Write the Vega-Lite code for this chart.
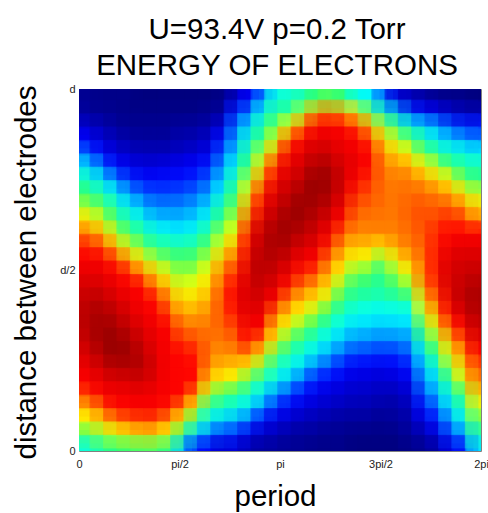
{"$schema":"https://vega.github.io/schema/vega-lite/v6.json","width":402,"height":362,"autosize":{"type":"none"},"padding":{"left":79,"top":89,"right":7,"bottom":62},"background":"white",
"title":{"text":["U=93.4V p=0.2 Torr","ENERGY OF ELECTRONS"],"font":"Liberation Sans","fontSize":29.5,"fontWeight":"normal","color":"#000000","anchor":"middle","lineHeight":36,"offset":2,"dx":-3},
"view":{"stroke":"#808080","strokeWidth":1},
"data":{"values":[
{"c":0,"r":0,"v":2},{"c":0,"r":1,"v":3},{"c":0,"r":2,"v":7},{"c":0,"r":3,"v":12},{"c":0,"r":4,"v":21},{"c":0,"r":5,"v":33},{"c":0,"r":6,"v":42},{"c":0,"r":7,"v":49},{"c":0,"r":8,"v":56},{"c":0,"r":9,"v":65},{"c":0,"r":10,"v":76},{"c":0,"r":11,"v":84},{"c":0,"r":12,"v":88},{"c":0,"r":13,"v":90},{"c":0,"r":14,"v":92},{"c":0,"r":15,"v":94},{"c":0,"r":16,"v":95},{"c":0,"r":17,"v":95},{"c":0,"r":18,"v":94},{"c":0,"r":19,"v":92},{"c":0,"r":20,"v":90},{"c":0,"r":21,"v":88},{"c":0,"r":22,"v":83},{"c":0,"r":23,"v":73},{"c":0,"r":24,"v":63},{"c":0,"r":25,"v":53},{"c":0,"r":26,"v":41},
{"c":1,"r":0,"v":1},{"c":1,"r":1,"v":2},{"c":1,"r":2,"v":5},{"c":1,"r":3,"v":8},{"c":1,"r":4,"v":13},{"c":1,"r":5,"v":24},{"c":1,"r":6,"v":35},{"c":1,"r":7,"v":44},{"c":1,"r":8,"v":52},{"c":1,"r":9,"v":60},{"c":1,"r":10,"v":71},{"c":1,"r":11,"v":81},{"c":1,"r":12,"v":88},{"c":1,"r":13,"v":90},{"c":1,"r":14,"v":92},{"c":1,"r":15,"v":95},{"c":1,"r":16,"v":97},{"c":1,"r":17,"v":98},{"c":1,"r":18,"v":98},{"c":1,"r":19,"v":96},{"c":1,"r":20,"v":93},{"c":1,"r":21,"v":90},{"c":1,"r":22,"v":88},{"c":1,"r":23,"v":79},{"c":1,"r":24,"v":69},{"c":1,"r":25,"v":57},{"c":1,"r":26,"v":46},
{"c":2,"r":0,"v":1},{"c":2,"r":1,"v":2},{"c":2,"r":2,"v":3},{"c":2,"r":3,"v":6},{"c":2,"r":4,"v":9},{"c":2,"r":5,"v":14},{"c":2,"r":6,"v":26},{"c":2,"r":7,"v":37},{"c":2,"r":8,"v":45},{"c":2,"r":9,"v":51},{"c":2,"r":10,"v":60},{"c":2,"r":11,"v":71},{"c":2,"r":12,"v":83},{"c":2,"r":13,"v":88},{"c":2,"r":14,"v":90},{"c":2,"r":15,"v":92},{"c":2,"r":16,"v":95},{"c":2,"r":17,"v":97},{"c":2,"r":18,"v":99},{"c":2,"r":19,"v":99},{"c":2,"r":20,"v":96},{"c":2,"r":21,"v":92},{"c":2,"r":22,"v":89},{"c":2,"r":23,"v":87},{"c":2,"r":24,"v":76},{"c":2,"r":25,"v":62},{"c":2,"r":26,"v":49},
{"c":3,"r":0,"v":1},{"c":3,"r":1,"v":1},{"c":3,"r":2,"v":2},{"c":3,"r":3,"v":4},{"c":3,"r":4,"v":7},{"c":3,"r":5,"v":11},{"c":3,"r":6,"v":18},{"c":3,"r":7,"v":28},{"c":3,"r":8,"v":36},{"c":3,"r":9,"v":44},{"c":3,"r":10,"v":51},{"c":3,"r":11,"v":60},{"c":3,"r":12,"v":74},{"c":3,"r":13,"v":85},{"c":3,"r":14,"v":88},{"c":3,"r":15,"v":90},{"c":3,"r":16,"v":92},{"c":3,"r":17,"v":94},{"c":3,"r":18,"v":97},{"c":3,"r":19,"v":98},{"c":3,"r":20,"v":96},{"c":3,"r":21,"v":92},{"c":3,"r":22,"v":89},{"c":3,"r":23,"v":87},{"c":3,"r":24,"v":80},{"c":3,"r":25,"v":65},{"c":3,"r":26,"v":51},
{"c":4,"r":0,"v":0},{"c":4,"r":1,"v":1},{"c":4,"r":2,"v":2},{"c":4,"r":3,"v":3},{"c":4,"r":4,"v":6},{"c":4,"r":5,"v":9},{"c":4,"r":6,"v":14},{"c":4,"r":7,"v":22},{"c":4,"r":8,"v":31},{"c":4,"r":9,"v":39},{"c":4,"r":10,"v":46},{"c":4,"r":11,"v":54},{"c":4,"r":12,"v":64},{"c":4,"r":13,"v":76},{"c":4,"r":14,"v":87},{"c":4,"r":15,"v":88},{"c":4,"r":16,"v":89},{"c":4,"r":17,"v":91},{"c":4,"r":18,"v":93},{"c":4,"r":19,"v":95},{"c":4,"r":20,"v":96},{"c":4,"r":21,"v":93},{"c":4,"r":22,"v":90},{"c":4,"r":23,"v":88},{"c":4,"r":24,"v":82},{"c":4,"r":25,"v":68},{"c":4,"r":26,"v":52},
{"c":5,"r":0,"v":0},{"c":5,"r":1,"v":1},{"c":5,"r":2,"v":2},{"c":5,"r":3,"v":3},{"c":5,"r":4,"v":6},{"c":5,"r":5,"v":9},{"c":5,"r":6,"v":13},{"c":5,"r":7,"v":19},{"c":5,"r":8,"v":25},{"c":5,"r":9,"v":32},{"c":5,"r":10,"v":40},{"c":5,"r":11,"v":47},{"c":5,"r":12,"v":57},{"c":5,"r":13,"v":68},{"c":5,"r":14,"v":77},{"c":5,"r":15,"v":86},{"c":5,"r":16,"v":88},{"c":5,"r":17,"v":89},{"c":5,"r":18,"v":90},{"c":5,"r":19,"v":91},{"c":5,"r":20,"v":92},{"c":5,"r":21,"v":91},{"c":5,"r":22,"v":89},{"c":5,"r":23,"v":88},{"c":5,"r":24,"v":82},{"c":5,"r":25,"v":68},{"c":5,"r":26,"v":52},
{"c":6,"r":0,"v":0},{"c":6,"r":1,"v":1},{"c":6,"r":2,"v":2},{"c":6,"r":3,"v":3},{"c":6,"r":4,"v":6},{"c":6,"r":5,"v":10},{"c":6,"r":6,"v":14},{"c":6,"r":7,"v":19},{"c":6,"r":8,"v":25},{"c":6,"r":9,"v":31},{"c":6,"r":10,"v":38},{"c":6,"r":11,"v":46},{"c":6,"r":12,"v":53},{"c":6,"r":13,"v":61},{"c":6,"r":14,"v":69},{"c":6,"r":15,"v":77},{"c":6,"r":16,"v":82},{"c":6,"r":17,"v":87},{"c":6,"r":18,"v":88},{"c":6,"r":19,"v":88},{"c":6,"r":20,"v":88},{"c":6,"r":21,"v":88},{"c":6,"r":22,"v":88},{"c":6,"r":23,"v":86},{"c":6,"r":24,"v":76},{"c":6,"r":25,"v":63},{"c":6,"r":26,"v":48},
{"c":7,"r":0,"v":0},{"c":7,"r":1,"v":1},{"c":7,"r":2,"v":3},{"c":7,"r":3,"v":5},{"c":7,"r":4,"v":7},{"c":7,"r":5,"v":11},{"c":7,"r":6,"v":14},{"c":7,"r":7,"v":20},{"c":7,"r":8,"v":25},{"c":7,"r":9,"v":31},{"c":7,"r":10,"v":36},{"c":7,"r":11,"v":44},{"c":7,"r":12,"v":51},{"c":7,"r":13,"v":55},{"c":7,"r":14,"v":60},{"c":7,"r":15,"v":66},{"c":7,"r":16,"v":72},{"c":7,"r":17,"v":78},{"c":7,"r":18,"v":82},{"c":7,"r":19,"v":87},{"c":7,"r":20,"v":87},{"c":7,"r":21,"v":87},{"c":7,"r":22,"v":87},{"c":7,"r":23,"v":78},{"c":7,"r":24,"v":65},{"c":7,"r":25,"v":51},{"c":7,"r":26,"v":33},
{"c":8,"r":0,"v":0},{"c":8,"r":1,"v":1},{"c":8,"r":2,"v":3},{"c":8,"r":3,"v":5},{"c":8,"r":4,"v":8},{"c":8,"r":5,"v":12},{"c":8,"r":6,"v":16},{"c":8,"r":7,"v":22},{"c":8,"r":8,"v":28},{"c":8,"r":9,"v":33},{"c":8,"r":10,"v":39},{"c":8,"r":11,"v":46},{"c":8,"r":12,"v":52},{"c":8,"r":13,"v":57},{"c":8,"r":14,"v":62},{"c":8,"r":15,"v":67},{"c":8,"r":16,"v":72},{"c":8,"r":17,"v":77},{"c":8,"r":18,"v":81},{"c":8,"r":19,"v":85},{"c":8,"r":20,"v":87},{"c":8,"r":21,"v":87},{"c":8,"r":22,"v":78},{"c":8,"r":23,"v":65},{"c":8,"r":24,"v":51},{"c":8,"r":25,"v":35},{"c":8,"r":26,"v":16},
{"c":9,"r":0,"v":0},{"c":9,"r":1,"v":2},{"c":9,"r":2,"v":4},{"c":9,"r":3,"v":7},{"c":9,"r":4,"v":10},{"c":9,"r":5,"v":15},{"c":9,"r":6,"v":21},{"c":9,"r":7,"v":27},{"c":9,"r":8,"v":33},{"c":9,"r":9,"v":39},{"c":9,"r":10,"v":46},{"c":9,"r":11,"v":52},{"c":9,"r":12,"v":58},{"c":9,"r":13,"v":63},{"c":9,"r":14,"v":67},{"c":9,"r":15,"v":71},{"c":9,"r":16,"v":75},{"c":9,"r":17,"v":77},{"c":9,"r":18,"v":78},{"c":9,"r":19,"v":78},{"c":9,"r":20,"v":76},{"c":9,"r":21,"v":69},{"c":9,"r":22,"v":60},{"c":9,"r":23,"v":47},{"c":9,"r":24,"v":38},{"c":9,"r":25,"v":27},{"c":9,"r":26,"v":12},
{"c":10,"r":0,"v":1},{"c":10,"r":1,"v":3},{"c":10,"r":2,"v":8},{"c":10,"r":3,"v":14},{"c":10,"r":4,"v":20},{"c":10,"r":5,"v":26},{"c":10,"r":6,"v":32},{"c":10,"r":7,"v":37},{"c":10,"r":8,"v":44},{"c":10,"r":9,"v":49},{"c":10,"r":10,"v":56},{"c":10,"r":11,"v":61},{"c":10,"r":12,"v":69},{"c":10,"r":13,"v":76},{"c":10,"r":14,"v":79},{"c":10,"r":15,"v":81},{"c":10,"r":16,"v":80},{"c":10,"r":17,"v":79},{"c":10,"r":18,"v":77},{"c":10,"r":19,"v":74},{"c":10,"r":20,"v":70},{"c":10,"r":21,"v":64},{"c":10,"r":22,"v":51},{"c":10,"r":23,"v":43},{"c":10,"r":24,"v":34},{"c":10,"r":25,"v":18},{"c":10,"r":26,"v":8},
{"c":11,"r":0,"v":6},{"c":11,"r":1,"v":15},{"c":11,"r":2,"v":22},{"c":11,"r":3,"v":27},{"c":11,"r":4,"v":32},{"c":11,"r":5,"v":38},{"c":11,"r":6,"v":43},{"c":11,"r":7,"v":49},{"c":11,"r":8,"v":53},{"c":11,"r":9,"v":58},{"c":11,"r":10,"v":62},{"c":11,"r":11,"v":71},{"c":11,"r":12,"v":78},{"c":11,"r":13,"v":83},{"c":11,"r":14,"v":87},{"c":11,"r":15,"v":88},{"c":11,"r":16,"v":86},{"c":11,"r":17,"v":82},{"c":11,"r":18,"v":79},{"c":11,"r":19,"v":76},{"c":11,"r":20,"v":69},{"c":11,"r":21,"v":62},{"c":11,"r":22,"v":49},{"c":11,"r":23,"v":40},{"c":11,"r":24,"v":31},{"c":11,"r":25,"v":18},{"c":11,"r":26,"v":9},
{"c":12,"r":0,"v":12},{"c":12,"r":1,"v":23},{"c":12,"r":2,"v":33},{"c":12,"r":3,"v":40},{"c":12,"r":4,"v":45},{"c":12,"r":5,"v":50},{"c":12,"r":6,"v":57},{"c":12,"r":7,"v":64},{"c":12,"r":8,"v":72},{"c":12,"r":9,"v":78},{"c":12,"r":10,"v":86},{"c":12,"r":11,"v":88},{"c":12,"r":12,"v":90},{"c":12,"r":13,"v":91},{"c":12,"r":14,"v":92},{"c":12,"r":15,"v":92},{"c":12,"r":16,"v":91},{"c":12,"r":17,"v":89},{"c":12,"r":18,"v":87},{"c":12,"r":19,"v":78},{"c":12,"r":20,"v":65},{"c":12,"r":21,"v":53},{"c":12,"r":22,"v":44},{"c":12,"r":23,"v":36},{"c":12,"r":24,"v":25},{"c":12,"r":25,"v":11},{"c":12,"r":26,"v":5},
{"c":13,"r":0,"v":24},{"c":13,"r":1,"v":38},{"c":13,"r":2,"v":44},{"c":13,"r":3,"v":49},{"c":13,"r":4,"v":57},{"c":13,"r":5,"v":65},{"c":13,"r":6,"v":74},{"c":13,"r":7,"v":83},{"c":13,"r":8,"v":88},{"c":13,"r":9,"v":91},{"c":13,"r":10,"v":94},{"c":13,"r":11,"v":95},{"c":13,"r":12,"v":96},{"c":13,"r":13,"v":96},{"c":13,"r":14,"v":94},{"c":13,"r":15,"v":92},{"c":13,"r":16,"v":90},{"c":13,"r":17,"v":88},{"c":13,"r":18,"v":79},{"c":13,"r":19,"v":67},{"c":13,"r":20,"v":56},{"c":13,"r":21,"v":45},{"c":13,"r":22,"v":37},{"c":13,"r":23,"v":28},{"c":13,"r":24,"v":14},{"c":13,"r":25,"v":7},{"c":13,"r":26,"v":3},
{"c":14,"r":0,"v":39},{"c":14,"r":1,"v":46},{"c":14,"r":2,"v":52},{"c":14,"r":3,"v":60},{"c":14,"r":4,"v":70},{"c":14,"r":5,"v":83},{"c":14,"r":6,"v":88},{"c":14,"r":7,"v":91},{"c":14,"r":8,"v":93},{"c":14,"r":9,"v":95},{"c":14,"r":10,"v":97},{"c":14,"r":11,"v":97},{"c":14,"r":12,"v":95},{"c":14,"r":13,"v":93},{"c":14,"r":14,"v":91},{"c":14,"r":15,"v":88},{"c":14,"r":16,"v":79},{"c":14,"r":17,"v":70},{"c":14,"r":18,"v":64},{"c":14,"r":19,"v":54},{"c":14,"r":20,"v":45},{"c":14,"r":21,"v":39},{"c":14,"r":22,"v":28},{"c":14,"r":23,"v":18},{"c":14,"r":24,"v":10},{"c":14,"r":25,"v":6},{"c":14,"r":26,"v":3},
{"c":15,"r":0,"v":42},{"c":15,"r":1,"v":47},{"c":15,"r":2,"v":62},{"c":15,"r":3,"v":78},{"c":15,"r":4,"v":88},{"c":15,"r":5,"v":90},{"c":15,"r":6,"v":92},{"c":15,"r":7,"v":94},{"c":15,"r":8,"v":96},{"c":15,"r":9,"v":98},{"c":15,"r":10,"v":98},{"c":15,"r":11,"v":96},{"c":15,"r":12,"v":93},{"c":15,"r":13,"v":90},{"c":15,"r":14,"v":86},{"c":15,"r":15,"v":77},{"c":15,"r":16,"v":69},{"c":15,"r":17,"v":62},{"c":15,"r":18,"v":53},{"c":15,"r":19,"v":46},{"c":15,"r":20,"v":39},{"c":15,"r":21,"v":33},{"c":15,"r":22,"v":21},{"c":15,"r":23,"v":12},{"c":15,"r":24,"v":8},{"c":15,"r":25,"v":4},{"c":15,"r":26,"v":2},
{"c":16,"r":0,"v":44},{"c":16,"r":1,"v":57},{"c":16,"r":2,"v":75},{"c":16,"r":3,"v":87},{"c":16,"r":4,"v":90},{"c":16,"r":5,"v":92},{"c":16,"r":6,"v":94},{"c":16,"r":7,"v":97},{"c":16,"r":8,"v":99},{"c":16,"r":9,"v":98},{"c":16,"r":10,"v":95},{"c":16,"r":11,"v":92},{"c":16,"r":12,"v":89},{"c":16,"r":13,"v":85},{"c":16,"r":14,"v":78},{"c":16,"r":15,"v":70},{"c":16,"r":16,"v":63},{"c":16,"r":17,"v":55},{"c":16,"r":18,"v":47},{"c":16,"r":19,"v":41},{"c":16,"r":20,"v":35},{"c":16,"r":21,"v":24},{"c":16,"r":22,"v":14},{"c":16,"r":23,"v":10},{"c":16,"r":24,"v":6},{"c":16,"r":25,"v":3},{"c":16,"r":26,"v":2},
{"c":17,"r":0,"v":50},{"c":17,"r":1,"v":71},{"c":17,"r":2,"v":87},{"c":17,"r":3,"v":90},{"c":17,"r":4,"v":93},{"c":17,"r":5,"v":96},{"c":17,"r":6,"v":99},{"c":17,"r":7,"v":99},{"c":17,"r":8,"v":97},{"c":17,"r":9,"v":95},{"c":17,"r":10,"v":93},{"c":17,"r":11,"v":91},{"c":17,"r":12,"v":88},{"c":17,"r":13,"v":82},{"c":17,"r":14,"v":74},{"c":17,"r":15,"v":66},{"c":17,"r":16,"v":58},{"c":17,"r":17,"v":50},{"c":17,"r":18,"v":42},{"c":17,"r":19,"v":36},{"c":17,"r":20,"v":26},{"c":17,"r":21,"v":16},{"c":17,"r":22,"v":11},{"c":17,"r":23,"v":8},{"c":17,"r":24,"v":5},{"c":17,"r":25,"v":3},{"c":17,"r":26,"v":1},
{"c":18,"r":0,"v":52},{"c":18,"r":1,"v":76},{"c":18,"r":2,"v":88},{"c":18,"r":3,"v":90},{"c":18,"r":4,"v":93},{"c":18,"r":5,"v":96},{"c":18,"r":6,"v":98},{"c":18,"r":7,"v":97},{"c":18,"r":8,"v":95},{"c":18,"r":9,"v":92},{"c":18,"r":10,"v":89},{"c":18,"r":11,"v":85},{"c":18,"r":12,"v":78},{"c":18,"r":13,"v":72},{"c":18,"r":14,"v":66},{"c":18,"r":15,"v":60},{"c":18,"r":16,"v":50},{"c":18,"r":17,"v":43},{"c":18,"r":18,"v":37},{"c":18,"r":19,"v":30},{"c":18,"r":20,"v":21},{"c":18,"r":21,"v":13},{"c":18,"r":22,"v":9},{"c":18,"r":23,"v":7},{"c":18,"r":24,"v":4},{"c":18,"r":25,"v":2},{"c":18,"r":26,"v":1},
{"c":19,"r":0,"v":49},{"c":19,"r":1,"v":72},{"c":19,"r":2,"v":87},{"c":19,"r":3,"v":89},{"c":19,"r":4,"v":90},{"c":19,"r":5,"v":92},{"c":19,"r":6,"v":93},{"c":19,"r":7,"v":92},{"c":19,"r":8,"v":90},{"c":19,"r":9,"v":87},{"c":19,"r":10,"v":81},{"c":19,"r":11,"v":75},{"c":19,"r":12,"v":69},{"c":19,"r":13,"v":63},{"c":19,"r":14,"v":56},{"c":19,"r":15,"v":49},{"c":19,"r":16,"v":43},{"c":19,"r":17,"v":38},{"c":19,"r":18,"v":32},{"c":19,"r":19,"v":24},{"c":19,"r":20,"v":15},{"c":19,"r":21,"v":11},{"c":19,"r":22,"v":8},{"c":19,"r":23,"v":6},{"c":19,"r":24,"v":3},{"c":19,"r":25,"v":2},{"c":19,"r":26,"v":1},
{"c":20,"r":0,"v":40},{"c":20,"r":1,"v":64},{"c":20,"r":2,"v":81},{"c":20,"r":3,"v":88},{"c":20,"r":4,"v":89},{"c":20,"r":5,"v":90},{"c":20,"r":6,"v":88},{"c":20,"r":7,"v":85},{"c":20,"r":8,"v":81},{"c":20,"r":9,"v":78},{"c":20,"r":10,"v":75},{"c":20,"r":11,"v":69},{"c":20,"r":12,"v":62},{"c":20,"r":13,"v":54},{"c":20,"r":14,"v":48},{"c":20,"r":15,"v":45},{"c":20,"r":16,"v":39},{"c":20,"r":17,"v":34},{"c":20,"r":18,"v":27},{"c":20,"r":19,"v":19},{"c":20,"r":20,"v":12},{"c":20,"r":21,"v":9},{"c":20,"r":22,"v":7},{"c":20,"r":23,"v":5},{"c":20,"r":24,"v":3},{"c":20,"r":25,"v":1},{"c":20,"r":26,"v":0},
{"c":21,"r":0,"v":37},{"c":21,"r":1,"v":53},{"c":21,"r":2,"v":72},{"c":21,"r":3,"v":82},{"c":21,"r":4,"v":87},{"c":21,"r":5,"v":87},{"c":21,"r":6,"v":84},{"c":21,"r":7,"v":81},{"c":21,"r":8,"v":79},{"c":21,"r":9,"v":77},{"c":21,"r":10,"v":76},{"c":21,"r":11,"v":70},{"c":21,"r":12,"v":62},{"c":21,"r":13,"v":53},{"c":21,"r":14,"v":48},{"c":21,"r":15,"v":44},{"c":21,"r":16,"v":38},{"c":21,"r":17,"v":34},{"c":21,"r":18,"v":27},{"c":21,"r":19,"v":19},{"c":21,"r":20,"v":12},{"c":21,"r":21,"v":9},{"c":21,"r":22,"v":7},{"c":21,"r":23,"v":5},{"c":21,"r":24,"v":3},{"c":21,"r":25,"v":1},{"c":21,"r":26,"v":0},
{"c":22,"r":0,"v":23},{"c":22,"r":1,"v":41},{"c":22,"r":2,"v":57},{"c":22,"r":3,"v":67},{"c":22,"r":4,"v":75},{"c":22,"r":5,"v":77},{"c":22,"r":6,"v":78},{"c":22,"r":7,"v":78},{"c":22,"r":8,"v":78},{"c":22,"r":9,"v":77},{"c":22,"r":10,"v":76},{"c":22,"r":11,"v":66},{"c":22,"r":12,"v":55},{"c":22,"r":13,"v":47},{"c":22,"r":14,"v":46},{"c":22,"r":15,"v":43},{"c":22,"r":16,"v":37},{"c":22,"r":17,"v":32},{"c":22,"r":18,"v":25},{"c":22,"r":19,"v":17},{"c":22,"r":20,"v":11},{"c":22,"r":21,"v":8},{"c":22,"r":22,"v":6},{"c":22,"r":23,"v":4},{"c":22,"r":24,"v":2},{"c":22,"r":25,"v":1},{"c":22,"r":26,"v":0},
{"c":23,"r":0,"v":9},{"c":23,"r":1,"v":31},{"c":23,"r":2,"v":48},{"c":23,"r":3,"v":59},{"c":23,"r":4,"v":66},{"c":23,"r":5,"v":74},{"c":23,"r":6,"v":76},{"c":23,"r":7,"v":77},{"c":23,"r":8,"v":77},{"c":23,"r":9,"v":77},{"c":23,"r":10,"v":76},{"c":23,"r":11,"v":73},{"c":23,"r":12,"v":64},{"c":23,"r":13,"v":57},{"c":23,"r":14,"v":51},{"c":23,"r":15,"v":45},{"c":23,"r":16,"v":38},{"c":23,"r":17,"v":33},{"c":23,"r":18,"v":26},{"c":23,"r":19,"v":18},{"c":23,"r":20,"v":12},{"c":23,"r":21,"v":9},{"c":23,"r":22,"v":6},{"c":23,"r":23,"v":4},{"c":23,"r":24,"v":3},{"c":23,"r":25,"v":1},{"c":23,"r":26,"v":0},
{"c":24,"r":0,"v":6},{"c":24,"r":1,"v":19},{"c":24,"r":2,"v":39},{"c":24,"r":3,"v":51},{"c":24,"r":4,"v":63},{"c":24,"r":5,"v":72},{"c":24,"r":6,"v":77},{"c":24,"r":7,"v":78},{"c":24,"r":8,"v":79},{"c":24,"r":9,"v":79},{"c":24,"r":10,"v":78},{"c":24,"r":11,"v":77},{"c":24,"r":12,"v":72},{"c":24,"r":13,"v":63},{"c":24,"r":14,"v":56},{"c":24,"r":15,"v":47},{"c":24,"r":16,"v":38},{"c":24,"r":17,"v":34},{"c":24,"r":18,"v":27},{"c":24,"r":19,"v":22},{"c":24,"r":20,"v":15},{"c":24,"r":21,"v":11},{"c":24,"r":22,"v":8},{"c":24,"r":23,"v":6},{"c":24,"r":24,"v":4},{"c":24,"r":25,"v":3},{"c":24,"r":26,"v":1},
{"c":25,"r":0,"v":4},{"c":25,"r":1,"v":13},{"c":25,"r":2,"v":33},{"c":25,"r":3,"v":44},{"c":25,"r":4,"v":52},{"c":25,"r":5,"v":63},{"c":25,"r":6,"v":73},{"c":25,"r":7,"v":78},{"c":25,"r":8,"v":80},{"c":25,"r":9,"v":81},{"c":25,"r":10,"v":80},{"c":25,"r":11,"v":79},{"c":25,"r":12,"v":78},{"c":25,"r":13,"v":77},{"c":25,"r":14,"v":75},{"c":25,"r":15,"v":65},{"c":25,"r":16,"v":60},{"c":25,"r":17,"v":52},{"c":25,"r":18,"v":45},{"c":25,"r":19,"v":37},{"c":25,"r":20,"v":31},{"c":25,"r":21,"v":26},{"c":25,"r":22,"v":20},{"c":25,"r":23,"v":14},{"c":25,"r":24,"v":10},{"c":25,"r":25,"v":5},{"c":25,"r":26,"v":2},
{"c":26,"r":0,"v":2},{"c":26,"r":1,"v":11},{"c":26,"r":2,"v":28},{"c":26,"r":3,"v":37},{"c":26,"r":4,"v":47},{"c":26,"r":5,"v":58},{"c":26,"r":6,"v":67},{"c":26,"r":7,"v":76},{"c":26,"r":8,"v":79},{"c":26,"r":9,"v":81},{"c":26,"r":10,"v":84},{"c":26,"r":11,"v":85},{"c":26,"r":12,"v":86},{"c":26,"r":13,"v":86},{"c":26,"r":14,"v":84},{"c":26,"r":15,"v":80},{"c":26,"r":16,"v":73},{"c":26,"r":17,"v":65},{"c":26,"r":18,"v":56},{"c":26,"r":19,"v":50},{"c":26,"r":20,"v":41},{"c":26,"r":21,"v":35},{"c":26,"r":22,"v":30},{"c":26,"r":23,"v":22},{"c":26,"r":24,"v":15},{"c":26,"r":25,"v":9},{"c":26,"r":26,"v":4},
{"c":27,"r":0,"v":1},{"c":27,"r":1,"v":8},{"c":27,"r":2,"v":20},{"c":27,"r":3,"v":32},{"c":27,"r":4,"v":40},{"c":27,"r":5,"v":50},{"c":27,"r":6,"v":63},{"c":27,"r":7,"v":72},{"c":27,"r":8,"v":79},{"c":27,"r":9,"v":84},{"c":27,"r":10,"v":87},{"c":27,"r":11,"v":89},{"c":27,"r":12,"v":91},{"c":27,"r":13,"v":92},{"c":27,"r":14,"v":92},{"c":27,"r":15,"v":90},{"c":27,"r":16,"v":88},{"c":27,"r":17,"v":81},{"c":27,"r":18,"v":71},{"c":27,"r":19,"v":64},{"c":27,"r":20,"v":56},{"c":27,"r":21,"v":48},{"c":27,"r":22,"v":40},{"c":27,"r":23,"v":35},{"c":27,"r":24,"v":27},{"c":27,"r":25,"v":19},{"c":27,"r":26,"v":10},
{"c":28,"r":0,"v":1},{"c":28,"r":1,"v":6},{"c":28,"r":2,"v":16},{"c":28,"r":3,"v":28},{"c":28,"r":4,"v":39},{"c":28,"r":5,"v":46},{"c":28,"r":6,"v":53},{"c":28,"r":7,"v":65},{"c":28,"r":8,"v":75},{"c":28,"r":9,"v":82},{"c":28,"r":10,"v":87},{"c":28,"r":11,"v":90},{"c":28,"r":12,"v":92},{"c":28,"r":13,"v":93},{"c":28,"r":14,"v":94},{"c":28,"r":15,"v":95},{"c":28,"r":16,"v":92},{"c":28,"r":17,"v":88},{"c":28,"r":18,"v":82},{"c":28,"r":19,"v":75},{"c":28,"r":20,"v":68},{"c":28,"r":21,"v":62},{"c":28,"r":22,"v":51},{"c":28,"r":23,"v":44},{"c":28,"r":24,"v":38},{"c":28,"r":25,"v":28},{"c":28,"r":26,"v":15},
{"c":29,"r":0,"v":0},{"c":29,"r":1,"v":5},{"c":29,"r":2,"v":15},{"c":29,"r":3,"v":24},{"c":29,"r":4,"v":36},{"c":29,"r":5,"v":43},{"c":29,"r":6,"v":48},{"c":29,"r":7,"v":58},{"c":29,"r":8,"v":66},{"c":29,"r":9,"v":75},{"c":29,"r":10,"v":87},{"c":29,"r":11,"v":90},{"c":29,"r":12,"v":92},{"c":29,"r":13,"v":94},{"c":29,"r":14,"v":96},{"c":29,"r":15,"v":97},{"c":29,"r":16,"v":96},{"c":29,"r":17,"v":94},{"c":29,"r":18,"v":91},{"c":29,"r":19,"v":87},{"c":29,"r":20,"v":81},{"c":29,"r":21,"v":77},{"c":29,"r":22,"v":69},{"c":29,"r":23,"v":61},{"c":29,"r":24,"v":53},{"c":29,"r":25,"v":45},{"c":29,"r":26,"v":35}
]},
"encoding":{
"x":{"field":"c","type":"quantitative","scale":{"domain":[-0.5,29.5],"nice":false,"zero":false},"axis":{"values":[-0.5,7,14.5,22,29.5],"labelExpr":"{'-0.5':'0','7':'pi/2','14.5':'pi','22':'3pi/2','29.5':'2pi'}[datum.value+'']","labelFont":"Liberation Sans","labelFontSize":11,"labelColor":"#222222","labelPadding":7,"labelAngle":0,"labelFlush":false,"ticks":false,"domain":false,"grid":false,"title":"period","titleFont":"Liberation Sans","titleFontSize":29.5,"titleFontWeight":"normal","titleColor":"#000000","titlePadding":13,"titleX":196}},
"y":{"field":"r","type":"quantitative","scale":{"domain":[26.5,-0.5],"nice":false,"zero":false},"axis":{"values":[26.5,13,-0.5],"labelExpr":"{'26.5':'0','13':'d/2','-0.5':'d'}[datum.value+'']","labelFont":"Liberation Sans","labelFontSize":11,"labelColor":"#222222","labelPadding":4,"ticks":false,"domain":false,"grid":false,"labelFlush":false,"title":"distance between electrodes","titleFont":"Liberation Sans","titleFontSize":29.5,"titleFontWeight":"normal","titleColor":"#000000","titlePadding":18,"titleY":183}},
"color":{"field":"v","type":"quantitative","legend":null,"scale":{"type":"linear","domain":[0,12.5,37.5,50,62.5,75,87.5,100],"range":["#00007f","#0000ff","#00ffff","#30ff70","#ffff00","#ff9000","#ff0000","#900000"],"interpolate":"rgb"}}
},
"layer":[
{"mark":{"type":"rect","width":14,"height":14,"clip":true}},
{"mark":{"type":"rect","width":21,"height":21,"clip":true,"opacity":0.5,"xOffset":2,"yOffset":2}},
{"mark":{"type":"rect","width":27,"height":27,"clip":true,"opacity":0.33,"xOffset":4,"yOffset":4}}
]}
